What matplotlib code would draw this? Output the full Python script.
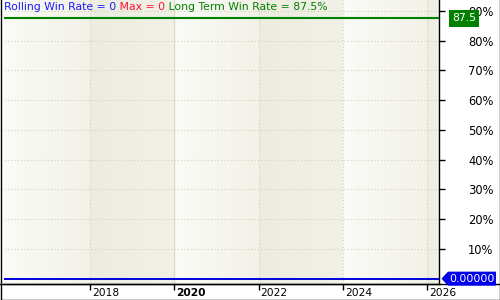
import numpy as np
import matplotlib.pyplot as plt
from matplotlib.patches import Polygon, Rectangle
from matplotlib.lines import Line2D
from matplotlib.transforms import IdentityTransform, ScaledTranslation, blended_transform_factory

# values
rolling_win_rate = 0
max_win_rate = 0
long_term_win_rate = 87.5
year_ticks = [2018, 2020, 2022, 2024, 2026]
pct_ticks = [10, 20, 30, 40, 50, 60, 70, 80, 90]

W, H = 500, 300
fig = plt.figure(figsize=(W / 100, H / 100), dpi=100)
ax = fig.add_axes([4 / W, 16 / H, 435 / W, 284 / H])

x0, x1 = 2015.96, 2026.28
y0, y1 = -1.8, 93.7

# alternating 2-year bands with a soft left-to-right gradient
edges = [x0] + year_ticks + [x1]
light = (np.array([251, 251, 247]), np.array([242, 242, 233]))
dark = (np.array([236, 236, 224]), np.array([241, 241, 231]))
for i in range(len(edges) - 1):
    c0, c1 = light if i % 2 == 0 else dark
    t = np.linspace(0, 1, 64)[:, None]
    grad = ((1 - t) * c0 + t * c1)[None, :, :] / 255
    ax.imshow(grad, extent=[edges[i], edges[i + 1], y0, y1], aspect="auto", zorder=0)

# grid
for yr in year_ticks:
    if yr == 2020:
        ax.axvline(yr, color="#dcdcc6", lw=1.0, zorder=1)
    else:
        ax.axvline(yr, color="#d4d4b0", lw=0.8, ls=(0, (1, 2)), zorder=1)
for p in pct_ticks:
    ax.axhline(p, color="#d4d4b0", lw=0.8, ls=(0, (1, 2)), zorder=1)

# series
ax.axhline(long_term_win_rate, color="#008000", lw=1.5, zorder=3)
ax.axhline(rolling_win_rate, color="#0000dd", lw=1.4, zorder=3)

ax.set_xlim(x0, x1)
ax.set_ylim(y0, y1)

for s in ["left", "top"]:
    ax.spines[s].set_visible(False)
ax.spines["right"].set_linewidth(1)
ax.spines["bottom"].set_linewidth(1)

ax.yaxis.tick_right()
ax.set_yticks(pct_ticks)
ax.set_yticklabels([f"{p}%" for p in pct_ticks])
ax.tick_params(axis="y", direction="out", length=4, width=1, pad=17, labelsize=8.3, colors="black")

ax.set_xticks(year_ticks)
ax.set_xticklabels([str(y) for y in year_ticks], ha="left")
ax.tick_params(axis="x", direction="out", length=4, width=1, pad=-1, labelsize=7.7)
for lbl in ax.get_xticklabels():
    lbl.set_transform(lbl.get_transform() + ScaledTranslation(2 / 100, 0, fig.dpi_scale_trans))
    if lbl.get_text() == "2020":
        lbl.set_fontweight("bold")

# bottom axis line across the full width and the outer frame
fig.add_artist(Line2D([0, 1], [16 / H, 16 / H], color="black", lw=1, transform=fig.transFigure))
fig.add_artist(Line2D([0.5 / W, 0.5 / W, 1 - 0.5 / W, 1 - 0.5 / W], [1, 0.5 / H, 0.5 / H, 1],
                      color="black", lw=1, transform=fig.transFigure))

# title segments
t1 = fig.text(4 / W, 1 - 7.5 / H, f"Rolling Win Rate = {rolling_win_rate}", color="#1a1aff",
              fontsize=7.8, va="center", ha="left")
t2 = ax.annotate(f" Max = {max_win_rate}", xy=(1, 0.5), xycoords=t1, va="center", ha="left",
                 color="#ff1030", fontsize=7.8)
t3 = ax.annotate(f" Long Term Win Rate = {long_term_win_rate}%", xy=(1, 0.5), xycoords=t2,
                 va="center", ha="left", color="#008000", fontsize=7.8)

# value flags on the right axis
trans = blended_transform_factory(ax.transAxes, ax.transData)
ax.annotate(f"{long_term_win_rate}", xy=(1, long_term_win_rate), xycoords=trans,
            xytext=(9.5, 0), textcoords="offset points", ha="left", va="center",
            color="white", fontsize=7.8, annotation_clip=False, zorder=10,
            bbox=dict(boxstyle="square,pad=0.3", fc="#008000", ec="none"))

fig.canvas.draw()
ax_right, yz = ax.transData.transform((x1, rolling_win_rate))
flag = Polygon([(ax_right + 2.5, yz), (ax_right + 9, yz + 7), (ax_right + 57, yz + 7),
                (ax_right + 57, yz - 7), (ax_right + 9, yz - 7)],
               closed=True, fc="#0000ee", ec="none", transform=IdentityTransform(), zorder=10)
fig.add_artist(flag)
fig.text(ax_right + 56, yz, f"{rolling_win_rate:.5f}", transform=IdentityTransform(),
         ha="right", va="center", color="white", fontsize=7.8, zorder=11)

fig.savefig("out.png", dpi=100)
